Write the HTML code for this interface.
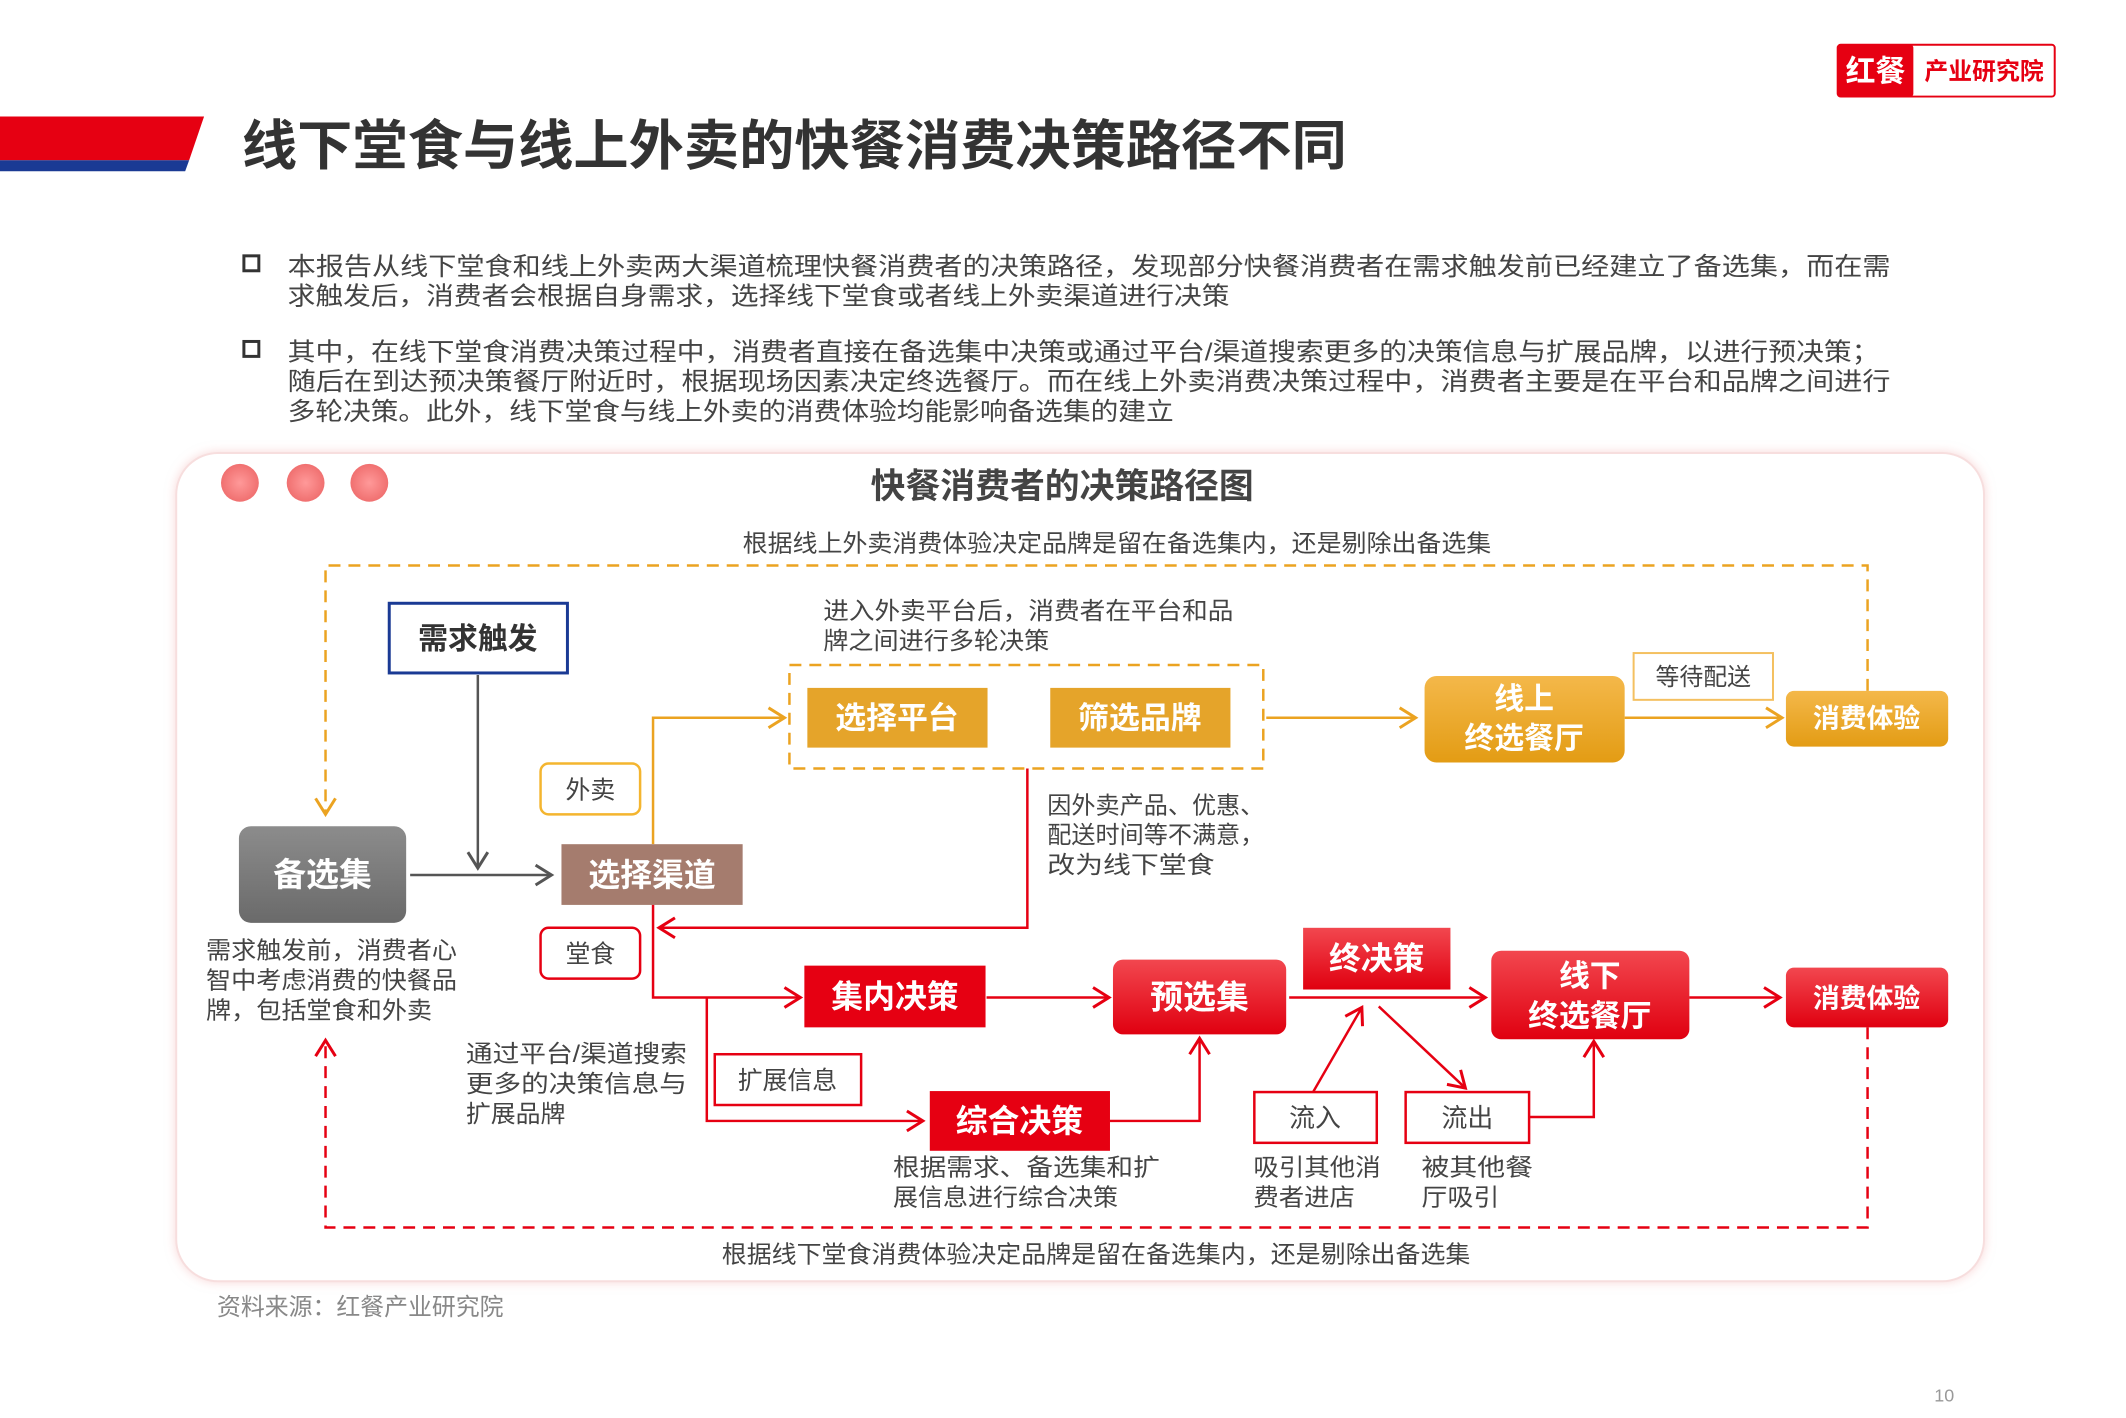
<!DOCTYPE html>
<html><head><meta charset="utf-8"><style>
html,body{margin:0;padding:0;background:#fff;}
svg{display:block;}
text{font-family:"Liberation Sans","Noto Sans CJK SC",sans-serif;}
</style></head><body>
<svg width="2126" height="1418" viewBox="0 0 2126 1418" xmlns="http://www.w3.org/2000/svg">
<defs>
<marker id="mo" markerUnits="userSpaceOnUse" markerWidth="24" markerHeight="24" refX="20" refY="12" orient="auto"><path d="M4,2 L20,12 L4,22" fill="none" stroke="#eba321" stroke-width="3"/></marker>
<marker id="mr" markerUnits="userSpaceOnUse" markerWidth="24" markerHeight="24" refX="20" refY="12" orient="auto"><path d="M4,2 L20,12 L4,22" fill="none" stroke="#e60012" stroke-width="3"/></marker>
<marker id="mg" markerUnits="userSpaceOnUse" markerWidth="24" markerHeight="24" refX="20" refY="12" orient="auto"><path d="M4,2 L20,12 L4,22" fill="none" stroke="#555" stroke-width="3"/></marker>
<linearGradient id="go" x1="0" y1="0" x2="0" y2="1"><stop offset="0" stop-color="#f4b84a"/><stop offset="1" stop-color="#e39c14"/></linearGradient>
<linearGradient id="gr" x1="0" y1="0" x2="0" y2="1"><stop offset="0" stop-color="#f2474f"/><stop offset="1" stop-color="#e00010"/></linearGradient>
<linearGradient id="gg" x1="0" y1="0" x2="0" y2="1"><stop offset="0" stop-color="#8c8c8c"/><stop offset="1" stop-color="#6a6a6a"/></linearGradient>
<radialGradient id="gd"><stop offset="0" stop-color="#f99"/><stop offset="1" stop-color="#f07070"/></radialGradient>
<filter id="sh" x="-5%" y="-5%" width="110%" height="110%"><feDropShadow dx="0" dy="0" stdDeviation="5" flood-color="#f3b0b0" flood-opacity="0.5"/></filter>
</defs>
<g transform="scale(0.9955)">
<!-- logo -->
<rect x="1846" y="45" width="218" height="52" rx="3" fill="#fff" stroke="#e60012" stroke-width="2"/>
<rect x="1846" y="45" width="76" height="52" rx="3" fill="#e60012"/>
<text x="1884" y="82" font-size="30" font-weight="700" fill="#fff" text-anchor="middle">红餐</text>
<text x="1993" y="80" font-size="24" font-weight="700" fill="#e60012" text-anchor="middle">产业研究院</text>

<!-- title bar -->
<polygon points="0,117 205,117 190,161 0,161" fill="#e60012"/>
<polygon points="0,161 190,161 186,172 0,172" fill="#1a3a94"/>
<text x="243" y="165" font-size="54" font-weight="700" fill="#333" textLength="1110" lengthAdjust="spacingAndGlyphs">线下堂食与线上外卖的快餐消费决策路径不同</text>

<!-- bullets -->
<rect x="245" y="257" width="15" height="15" fill="none" stroke="#333" stroke-width="3"/>
<rect x="245" y="343" width="15" height="15" fill="none" stroke="#333" stroke-width="3"/>
<g font-size="25" fill="#444">
<text x="289" y="276" textLength="1610" lengthAdjust="spacingAndGlyphs">本报告从线下堂食和线上外卖两大渠道梳理快餐消费者的决策路径，发现部分快餐消费者在需求触发前已经建立了备选集，而在需</text>
<text x="289" y="306" textLength="946" lengthAdjust="spacingAndGlyphs">求触发后，消费者会根据自身需求，选择线下堂食或者线上外卖渠道进行决策</text>
<text x="289" y="362" textLength="1599" lengthAdjust="spacingAndGlyphs">其中，在线下堂食消费决策过程中，消费者直接在备选集中决策或通过平台/渠道搜索更多的决策信息与扩展品牌，以进行预决策；</text>
<text x="289" y="392" textLength="1610" lengthAdjust="spacingAndGlyphs">随后在到达预决策餐厅附近时，根据现场因素决定终选餐厅。而在线上外卖消费决策过程中，消费者主要是在平台和品牌之间进行</text>
<text x="289" y="422" textLength="890" lengthAdjust="spacingAndGlyphs">多轮决策。此外，线下堂食与线上外卖的消费体验均能影响备选集的建立</text>
</g>

<!-- panel -->
<rect x="177" y="455" width="1816" height="832" rx="42" fill="#fff" stroke="#f7dede" stroke-width="2" filter="url(#sh)"/>
<circle cx="241" cy="485" r="19" fill="url(#gd)"/>
<circle cx="307" cy="485" r="19" fill="url(#gd)"/>
<circle cx="371" cy="485" r="19" fill="url(#gd)"/>
<text x="1067" y="500" font-size="35" font-weight="700" fill="#444" text-anchor="middle">快餐消费者的决策路径图</text>
<text x="1122" y="554" font-size="24" fill="#444" text-anchor="middle" textLength="752" lengthAdjust="spacingAndGlyphs">根据线上外卖消费体验决定品牌是留在备选集内，还是剔除出备选集</text>

<path d="M1876,694 L1876,568 L327,568 L327,818" fill="none" stroke="#eba321" stroke-width="2.5" stroke-dasharray="12,8" marker-end="url(#mo)"/>

<rect x="391" y="606" width="179" height="70" fill="#fff" stroke="#1a3a94" stroke-width="3"/>
<text x="480" y="652" font-size="30" font-weight="700" fill="#333" text-anchor="middle">需求触发</text>
<path d="M480,678 L480,872" stroke="#555" stroke-width="2.5" fill="none" marker-end="url(#mg)"/>

<rect x="240" y="830" width="168" height="97" rx="12" fill="url(#gg)"/>
<text x="324" y="890" font-size="33" font-weight="700" fill="#fff" text-anchor="middle">备选集</text>
<path d="M412,879 L554,879" stroke="#555" stroke-width="2.5" fill="none" marker-end="url(#mg)"/>
<g font-size="24" fill="#444">
<text x="207" y="963" textLength="252" lengthAdjust="spacingAndGlyphs">需求触发前，消费者心</text>
<text x="207" y="993" textLength="252" lengthAdjust="spacingAndGlyphs">智中考虑消费的快餐品</text>
<text x="207" y="1023" textLength="227" lengthAdjust="spacingAndGlyphs">牌，包括堂食和外卖</text>
</g>

<rect x="564" y="848" width="182" height="61" fill="#a57c6e"/>
<text x="655" y="890" font-size="32" font-weight="700" fill="#fff" text-anchor="middle">选择渠道</text>

<rect x="543" y="767" width="100" height="51" rx="8" fill="#fff" stroke="#f4b52f" stroke-width="2.5"/>
<text x="593" y="802" font-size="25" fill="#444" text-anchor="middle">外卖</text>
<rect x="543" y="932" width="100" height="51" rx="8" fill="#fff" stroke="#e60012" stroke-width="2.5"/>
<text x="593" y="967" font-size="25" fill="#444" text-anchor="middle">堂食</text>

<path d="M656,848 L656,721 L788,721" stroke="#eba321" stroke-width="2.5" fill="none" marker-end="url(#mo)"/>
<text x="827" y="622" font-size="24" fill="#444" textLength="412" lengthAdjust="spacingAndGlyphs">进入外卖平台后，消费者在平台和品</text>
<text x="827" y="652" font-size="24" fill="#444" textLength="227" lengthAdjust="spacingAndGlyphs">牌之间进行多轮决策</text>
<rect x="793" y="668" width="476" height="104" fill="none" stroke="#eba321" stroke-width="2.5" stroke-dasharray="12,8"/>
<rect x="811" y="691" width="181" height="60" fill="#e5a42a"/>
<text x="901" y="732" font-size="31" font-weight="700" fill="#fff" text-anchor="middle">选择平台</text>
<rect x="1055" y="691" width="181" height="60" fill="#e5a42a"/>
<text x="1145" y="732" font-size="31" font-weight="700" fill="#fff" text-anchor="middle">筛选品牌</text>
<path d="M1272,721 L1422,721" stroke="#eba321" stroke-width="2.5" fill="none" marker-end="url(#mo)"/>
<rect x="1431" y="679" width="201" height="87" rx="12" fill="url(#go)"/>
<text x="1531" y="712" font-size="30" font-weight="700" fill="#fff" text-anchor="middle">线上</text>
<text x="1531" y="752" font-size="30" font-weight="700" fill="#fff" text-anchor="middle">终选餐厅</text>
<rect x="1641" y="656" width="140" height="47" fill="#fff" stroke="#f4c060" stroke-width="2"/>
<text x="1711" y="688" font-size="24" fill="#444" text-anchor="middle">等待配送</text>
<path d="M1632,721 L1790,721" stroke="#eba321" stroke-width="2.5" fill="none" marker-end="url(#mo)"/>
<rect x="1794" y="694" width="163" height="56" rx="8" fill="url(#go)"/>
<text x="1875" y="731" font-size="27" font-weight="700" fill="#fff" text-anchor="middle">消费体验</text>

<path d="M1032,772 L1032,932 L662,932" stroke="#e60012" stroke-width="2.5" fill="none" marker-end="url(#mr)"/>
<g font-size="24" fill="#444">
<text x="1052" y="817" textLength="218" lengthAdjust="spacingAndGlyphs">因外卖产品、优惠、</text>
<text x="1052" y="847" textLength="218" lengthAdjust="spacingAndGlyphs">配送时间等不满意，</text>
<text x="1052" y="877" textLength="168" lengthAdjust="spacingAndGlyphs">改为线下堂食</text>
</g>

<path d="M656,909 L656,1002 L804,1002" stroke="#e60012" stroke-width="2.5" fill="none" marker-end="url(#mr)"/>
<path d="M710,1002 L710,1126 L927,1126" stroke="#e60012" stroke-width="2.5" fill="none" marker-end="url(#mr)"/>
<rect x="808" y="970" width="182" height="62" fill="#e60012"/>
<text x="899" y="1012" font-size="32" font-weight="700" fill="#fff" text-anchor="middle">集内决策</text>
<rect x="718" y="1059" width="147" height="51" fill="#fff" stroke="#e60012" stroke-width="2.5"/>
<text x="791" y="1094" font-size="25" fill="#444" text-anchor="middle">扩展信息</text>
<g font-size="24" fill="#444">
<text x="468" y="1067" textLength="222" lengthAdjust="spacingAndGlyphs">通过平台/渠道搜索</text>
<text x="468" y="1097" textLength="222" lengthAdjust="spacingAndGlyphs">更多的决策信息与</text>
<text x="468" y="1127" textLength="100" lengthAdjust="spacingAndGlyphs">扩展品牌</text>
</g>
<rect x="934" y="1096" width="181" height="60" fill="#e60012"/>
<text x="1024" y="1137" font-size="32" font-weight="700" fill="#fff" text-anchor="middle">综合决策</text>
<path d="M1115,1126 L1205,1126 L1205,1043" stroke="#e60012" stroke-width="2.5" fill="none" marker-end="url(#mr)"/>
<g font-size="24" fill="#444">
<text x="897" y="1181" textLength="268" lengthAdjust="spacingAndGlyphs">根据需求、备选集和扩</text>
<text x="897" y="1211" textLength="226" lengthAdjust="spacingAndGlyphs">展信息进行综合决策</text>
</g>
<path d="M991,1002 L1114,1002" stroke="#e60012" stroke-width="2.5" fill="none" marker-end="url(#mr)"/>
<rect x="1118" y="964" width="174" height="75" rx="10" fill="url(#gr)"/>
<text x="1205" y="1013" font-size="33" font-weight="700" fill="#fff" text-anchor="middle">预选集</text>
<rect x="1309" y="932" width="148" height="62" fill="url(#gr)"/>
<text x="1383" y="974" font-size="32" font-weight="700" fill="#fff" text-anchor="middle">终决策</text>
<path d="M1295,1002 L1492,1002" stroke="#e60012" stroke-width="2.5" fill="none" marker-end="url(#mr)"/>
<rect x="1498" y="955" width="199" height="89" rx="10" fill="url(#gr)"/>
<text x="1597" y="991" font-size="31" font-weight="700" fill="#fff" text-anchor="middle">线下</text>
<text x="1597" y="1031" font-size="31" font-weight="700" fill="#fff" text-anchor="middle">终选餐厅</text>
<path d="M1697,1002 L1788,1002" stroke="#e60012" stroke-width="2.5" fill="none" marker-end="url(#mr)"/>
<rect x="1794" y="972" width="163" height="60" rx="8" fill="url(#gr)"/>
<text x="1875" y="1012" font-size="27" font-weight="700" fill="#fff" text-anchor="middle">消费体验</text>

<rect x="1260" y="1097" width="123" height="51" fill="#fff" stroke="#e60012" stroke-width="2.5"/>
<text x="1321" y="1132" font-size="26" fill="#444" text-anchor="middle">流入</text>
<rect x="1412" y="1097" width="124" height="51" fill="#fff" stroke="#e60012" stroke-width="2.5"/>
<text x="1474" y="1132" font-size="26" fill="#444" text-anchor="middle">流出</text>
<path d="M1319,1097 L1368,1012" stroke="#e60012" stroke-width="2.5" fill="none" marker-end="url(#mr)"/>
<path d="M1385,1011 L1472,1093" stroke="#e60012" stroke-width="2.5" fill="none" marker-end="url(#mr)"/>
<path d="M1536,1122 L1601,1122 L1601,1046" stroke="#e60012" stroke-width="2.5" fill="none" marker-end="url(#mr)"/>
<g font-size="24" fill="#444">
<text x="1259" y="1181" textLength="128" lengthAdjust="spacingAndGlyphs">吸引其他消</text>
<text x="1259" y="1211" textLength="102" lengthAdjust="spacingAndGlyphs">费者进店</text>
<text x="1428" y="1181" textLength="112" lengthAdjust="spacingAndGlyphs">被其他餐</text>
<text x="1428" y="1211" textLength="78" lengthAdjust="spacingAndGlyphs">厅吸引</text>
</g>

<path d="M1876,1032 L1876,1233 L327,1233 L327,1045" fill="none" stroke="#e60012" stroke-width="2.5" stroke-dasharray="12,8" marker-end="url(#mr)"/>
<text x="1101" y="1268" font-size="24" fill="#444" text-anchor="middle" textLength="752" lengthAdjust="spacingAndGlyphs">根据线下堂食消费体验决定品牌是留在备选集内，还是剔除出备选集</text>

<text x="218" y="1321" font-size="24" fill="#888">资料来源：红餐产业研究院</text>
<text x="1953" y="1408" font-size="18" fill="#999" text-anchor="middle">10</text>
</g>
</svg>
</body></html>
